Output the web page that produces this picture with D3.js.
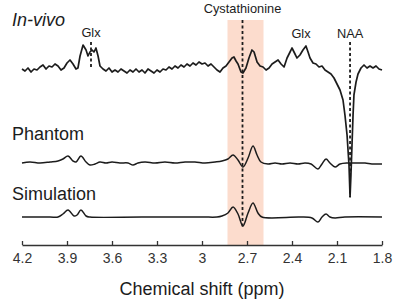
<!DOCTYPE html>
<html>
<head>
<meta charset="utf-8">
<script src="https://cdn.jsdelivr.net/npm/d3@7"></script>
<style>
  html, body { margin: 0; padding: 0; background: #fff; }
  svg { display: block; font-family: "Liberation Sans", Arial, sans-serif; }
</style>
</head>
<body>
<svg id="chart" width="400" height="306"></svg>
<script>
// Spectra as [ppm, intensity (a.u.)]
const inVivo = [
  [4.20, 1], [4.18, -1], [4.16, 2], [4.14, -2], [4.12, 1], [4.10, 0], [4.08, 3], [4.06, 5],
  [4.04, 1], [4.02, 4], [4.00, 3], [3.98, 6], [3.96, 4], [3.94, 0], [3.92, 2], [3.90, 7],
  [3.88, 10], [3.86, 6], [3.84, 1], [3.827, 2], [3.813, 14], [3.793, 25], [3.773, 20], [3.76, 14],
  [3.747, 18], [3.733, 20], [3.72, 18], [3.707, 22], [3.693, 14], [3.68, 4], [3.66, 1], [3.64, -1],
  [3.62, 2], [3.60, -2], [3.58, 0], [3.56, -2], [3.54, 1], [3.52, -1], [3.50, -3], [3.48, 0],
  [3.46, -2], [3.44, 1], [3.42, -2], [3.40, 0], [3.38, -3], [3.36, 1], [3.34, -1], [3.32, -3],
  [3.30, 0], [3.28, -2], [3.26, 1], [3.24, 0], [3.22, 3], [3.20, 1], [3.18, 4], [3.16, 2],
  [3.14, 5], [3.12, 3], [3.10, 6], [3.08, 4], [3.06, 7], [3.04, 5], [3.02, 8], [3.00, 6],
  [2.98, 7], [2.96, 4], [2.94, 6], [2.92, 3], [2.90, 0], [2.88, -2], [2.86, 2], [2.84, 4],
  [2.82, 8], [2.80, 12], [2.787, 13], [2.773, 9], [2.76, 6], [2.74, -2], [2.727, -3], [2.707, 2],
  [2.687, 12], [2.667, 20], [2.653, 18], [2.633, 8], [2.613, 4], [2.593, 3], [2.573, 0], [2.553, 2],
  [2.533, 6], [2.513, 8], [2.493, 10], [2.473, 6], [2.453, 3], [2.433, 12], [2.413, 18], [2.40, 22],
  [2.38, 16], [2.367, 12], [2.347, 15], [2.327, 20], [2.307, 24], [2.293, 18], [2.28, 12], [2.26, 7],
  [2.24, 6], [2.22, 3], [2.20, 4], [2.18, 0], [2.16, -2], [2.14, -4], [2.12, -8], [2.10, -14],
  [2.08, -20], [2.06, -30], [2.047, -45], [2.033, -65], [2.02, -95], [2.013, -127], [2.007, -105], [2.00, -75],
  [1.993, -45], [1.987, -25], [1.973, -12], [1.96, -4], [1.94, 2], [1.92, 5], [1.90, 2], [1.88, 4],
  [1.86, 2], [1.84, 4], [1.82, 1], [1.80, 0]
];

const phantom = [
  [4.20, -1], [4.147, 0], [4.08, -1], [4.013, 0], [3.96, 1], [3.927, 3], [3.893, 6], [3.86, 1],
  [3.84, 0], [3.807, 6], [3.773, 0], [3.747, -3], [3.713, -2], [3.68, 0], [3.64, -1], [3.60, 0],
  [3.547, -1], [3.493, -1], [3.46, -3], [3.427, -1], [3.38, 0], [3.313, -1], [3.247, 0], [3.18, -1],
  [3.113, 0], [3.047, 0], [2.98, -1], [2.913, 0], [2.867, 1], [2.827, 3], [2.793, 7], [2.76, 2],
  [2.727, -5], [2.693, 4], [2.66, 16], [2.633, 7], [2.607, 0], [2.56, -2], [2.513, -1], [2.467, -2],
  [2.413, -1], [2.36, -2], [2.313, -1], [2.273, -2], [2.227, -7], [2.20, -2], [2.173, 3], [2.147, -1],
  [2.113, -5], [2.08, -2], [2.027, -1], [1.973, -1], [1.913, -1], [1.867, -2], [1.80, -2]
];

const simulation = [
  [4.20, 0], [4.013, 0], [3.96, 0], [3.927, 3], [3.893, 7], [3.853, 1], [3.833, 2], [3.807, 7],
  [3.773, 1], [3.747, 0], [3.40, 0], [3.00, 0], [2.90, 0], [2.867, 1], [2.827, 4], [2.793, 10],
  [2.76, 3], [2.727, -9], [2.693, 4], [2.66, 14], [2.627, 4], [2.60, 0], [2.347, 0], [2.267, -1],
  [2.227, -5], [2.20, 0], [2.173, 3], [2.147, 0], [2.113, -1], [2.047, 0], [1.80, 0]
];

const traceNames = ['In-vivo', 'Phantom', 'Simulation'];
const tickValues = [4.2, 3.9, 3.6, 3.3, 3.0, 2.7, 2.4, 2.1, 1.8];
const tickLabels = ['4.2', '3.9', '3.6', '3.3', '3', '2.7', '2.4', '2.1', '1.8'];
const band = [2.83, 2.59];                       // cystathionine window (ppm)
const markers = [                                 // dashed markers
  { ppm: 3.74, label: 'Glx', top: 42, bottom: 68 },
  { ppm: 2.73, label: 'Cystathionine', top: 20, bottom: 228 },
  { ppm: 2.013, label: 'NAA', top: 42, bottom: 197 }
];
const extraLabels = [{ ppm: 2.34, label: 'Glx' }];

const svg = d3.select('#chart');
const x = d3.scaleLinear().domain([4.2, 1.8]).range([22, 382]);

// one y scale per trace, same unit height
const baselines = [70, 162, 217];
const yScales = baselines.map(b => d3.scaleLinear().domain([0, 100]).range([b, b - 100]));

// ── Shaded band ──────────────────────────────────────────────────────────
svg.append('rect')
  .attr('x', x(band[0]))
  .attr('y', 20)
  .attr('width', x(band[1]) - x(band[0]))
  .attr('height', 245 - 20)
  .attr('fill', '#fcdccd');

// ── Traces ───────────────────────────────────────────────────────────────
const series = [inVivo, phantom, simulation];
const curves = [d3.curveLinear, d3.curveCatmullRom, d3.curveCatmullRom];
const widths = [1.7, 1.5, 1.5];

series.forEach((data, i) => {
  const line = d3.line()
    .x(d => x(d[0]))
    .y(d => yScales[i](d[1]))
    .curve(curves[i]);
  svg.append('path')
    .datum(data)
    .attr('d', line)
    .attr('fill', 'none')
    .attr('stroke', '#1c1c1c')
    .attr('stroke-width', widths[i])
    .attr('stroke-linejoin', 'round');
});

// ── Dashed markers ───────────────────────────────────────────────────────
markers.forEach(m => {
  svg.append('line')
    .attr('x1', x(m.ppm)).attr('x2', x(m.ppm))
    .attr('y1', m.top).attr('y2', m.bottom)
    .attr('stroke', '#1c1c1c')
    .attr('stroke-width', 1.8)
    .attr('stroke-dasharray', '3,2.5');
});

// ── Peak labels ──────────────────────────────────────────────────────────
const peakLabels = [
  { ppm: 3.74, label: 'Glx', y: 37 },
  { ppm: 2.73, label: 'Cystathionine', y: 13 },
  { ppm: extraLabels[0].ppm, label: extraLabels[0].label, y: 38 },
  { ppm: 2.013, label: 'NAA', y: 38 }
];
svg.selectAll('text.peak').data(peakLabels).join('text')
  .attr('class', 'peak')
  .attr('x', d => x(d.ppm))
  .attr('y', d => d.y)
  .attr('text-anchor', 'middle')
  .attr('font-size', 12.8)
  .attr('fill', '#1c1c1c')
  .text(d => d.label);

// ── Trace names ──────────────────────────────────────────────────────────
const nameY = [26, 140, 200];
svg.selectAll('text.name').data(traceNames).join('text')
  .attr('class', 'name')
  .attr('x', 12)
  .attr('y', (d, i) => nameY[i])
  .attr('font-size', 18)
  .attr('font-style', (d, i) => i === 0 ? 'italic' : 'normal')
  .attr('fill', '#1c1c1c')
  .text(d => d);

// ── Axis ─────────────────────────────────────────────────────────────────
const axis = d3.axisBottom(x)
  .tickValues(tickValues)
  .tickFormat((d, i) => tickLabels[i])
  .tickSizeInner(-4)
  .tickSizeOuter(0)
  .tickPadding(8);

const axG = svg.append('g')
  .attr('transform', 'translate(0,245)')
  .call(axis);
axG.select('.domain').attr('stroke', '#333').attr('stroke-width', 1.3);
axG.selectAll('.tick line').attr('stroke', '#333').attr('stroke-width', 1.3);
axG.selectAll('.tick text')
  .attr('font-size', 14)
  .attr('font-family', '"Liberation Sans", Arial, sans-serif')
  .attr('fill', '#333');

svg.append('text')
  .attr('x', 202)
  .attr('y', 295)
  .attr('text-anchor', 'middle')
  .attr('font-size', 18)
  .attr('fill', '#1c1c1c')
  .text('Chemical shift (ppm)');
</script>
</body>
</html>
